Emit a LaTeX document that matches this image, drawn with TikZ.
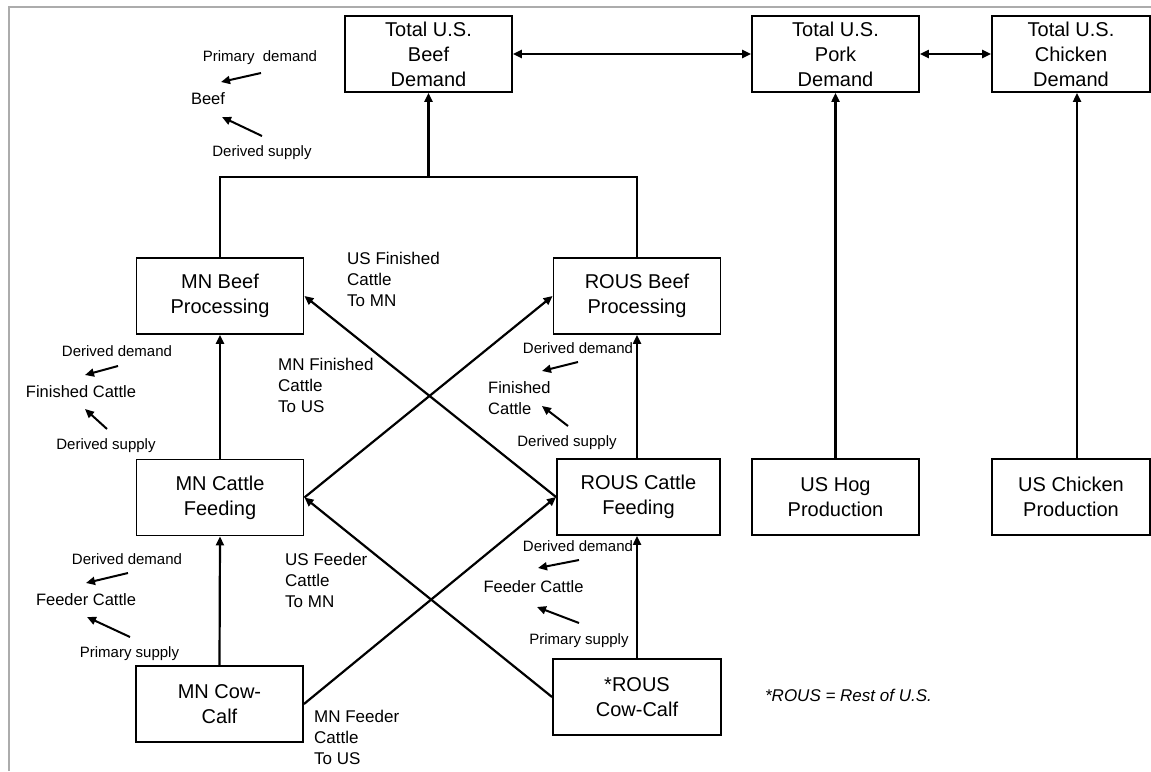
\documentclass[tikz,border=0pt]{standalone}
\usepackage{fontspec}
\setmainfont{Liberation Sans}
\usetikzlibrary{arrows.meta}

\begin{document}
\begin{tikzpicture}[x=1pt, y=-1pt, >={Triangle[length=9pt,width=8pt]},
    stage/.style={draw, line width=1.9pt, minimum width=167pt, minimum height=76pt,
        inner sep=0pt, align=center, font=\fontsize{20}{25}\selectfont},
    flow/.style={line width=2.2pt},
    trade/.style={anchor=west, align=left, inner sep=0pt, font=\fontsize{17}{21}\selectfont},
    mkt/.style={inner sep=0pt, font=\fontsize{16.5}{21}\selectfont},
    side/.style={inner sep=0pt, font=\fontsize{15}{18}\selectfont},
    hint/.style={->, line width=2pt}]

    % =================================================================
    % 0. PAGE AND GREY FRAME
    % =================================================================
    \useasboundingbox (0,0) rectangle (1151,771);
    \draw[gray!65, line width=2pt] (9,771) -- (9,7) -- (1151,7);

    % =================================================================
    % 1. COORDINATES OF THE SMALL LEGEND ARROWS
    % =================================================================
    % Beef
    \coordinate (h1s) at (261,73);   \coordinate (h1e) at (221,82);
    \coordinate (h2s) at (262,136);  \coordinate (h2e) at (222,117);
    % MN finished cattle
    \coordinate (h3s) at (118,366);  \coordinate (h3e) at (85,375);
    \coordinate (h4s) at (107,429);  \coordinate (h4e) at (85,409);
    % MN feeder cattle
    \coordinate (h5s) at (128,573);  \coordinate (h5e) at (86,583);
    \coordinate (h6s) at (130,637);  \coordinate (h6e) at (87,617);
    % ROUS finished cattle
    \coordinate (h7s) at (578,362);  \coordinate (h7e) at (542,371);
    \coordinate (h8s) at (568,426);  \coordinate (h8e) at (542,406);
    % ROUS feeder cattle
    \coordinate (h9s) at (579,560);  \coordinate (h9e) at (538,568);
    \coordinate (h10s) at (579,623); \coordinate (h10e) at (537,607);

    % =================================================================
    % 2. THE BOXES
    % =================================================================
    \node[stage] (bdem) at (428.5,54) {Total U.S.\\Beef\\Demand};
    \node[stage] (pdem) at (835.5,54) {Total U.S.\\Pork\\Demand};
    \node[stage, minimum width=158pt] (cdem) at (1071,54) {Total U.S.\\Chicken\\Demand};

    \node[stage] (mnproc) at (220,296) {MN Beef\\Processing};
    \node[stage] (rsproc) at (637,296) {ROUS Beef\\Processing};

    \node[stage] (mnfeed) at (220,497.5) {MN Cattle\\Feeding};
    \node[stage, minimum width=163pt] (rsfeed) at (638.5,497) {ROUS Cattle\\Feeding};
    \node[stage] (hog) at (835.5,497) {US Hog\\Production};
    \node[stage, minimum width=158pt] (chick) at (1071,497) {US Chicken\\Production};

    \node[stage] (mncow) at (219.5,704) {MN Cow-\\Calf};
    \node[stage, minimum width=168pt] (rscow) at (637,697) {*ROUS\\Cow-Calf};

    % =================================================================
    % 3. FLOWS BETWEEN THE BOXES
    % =================================================================
    % demand links along the top
    \draw[flow, <->] (bdem.east) -- (pdem.west);
    \draw[flow, <->] (pdem.east) -- (cdem.west);

    % processing bus up to beef demand
    \coordinate (bus) at (428.5,177);
    \draw[flow] (mnproc.north) |- (bus) -| (rsproc.north);
    \draw[flow, ->] (bus) -- (bdem.south);

    % straight up the chains
    \draw[flow, ->] (mnfeed.north) -- (mnproc.south);
    \draw[flow, ->] (mncow.north) -- (mnfeed.south);
    \draw[flow, ->] (rsproc.south |- rsfeed.north) -- (rsproc.south);
    \draw[flow, ->] (rscow.north) -- (rscow.north |- rsfeed.south);
    \draw[flow, ->] (hog.north) -- (pdem.south);
    \draw[flow, ->] ([xshift=6pt]chick.north) -- ([xshift=6pt]cdem.south);

    % shipments across
    \draw[flow, ->] (rsfeed.west) -- (mnproc.east);
    \draw[flow, ->] (mnfeed.east) -- (rsproc.west);
    \draw[flow, ->] (rscow.west) -- (mnfeed.east);
    \draw[flow, ->] (mncow.east) -- (rsfeed.west);

    % =================================================================
    % 4. LABELS ON THE SHIPMENTS
    % =================================================================
    \node[trade] (usfin) at (347,279) {US Finished\\Cattle\\To MN};
    \node[trade] (mnfin) at (278,385) {MN Finished\\Cattle\\To US};
    \node[trade] (usfdr) at (285,580) {US Feeder\\Cattle\\To MN};
    \node[trade] (mnfdr) at (314,737) {MN Feeder\\Cattle\\To US};

    % =================================================================
    % 5. DEMAND / SUPPLY LEGENDS
    % =================================================================
    \node[side] (bfd) at (260,58) {Primary\ \ demand};
    \node[mkt] (beef) at (208,99) {Beef};
    \node[side] (bfs) at (262,153) {Derived supply};

    \node[side] (mfcd) at (117,351) {Derived demand};
    \node[mkt] (mfc) at (81,392) {Finished Cattle};
    \node[side] (mfcs) at (106,446) {Derived supply};

    \node[side] (mfdd) at (127,559) {Derived demand};
    \node[mkt] (mfd) at (86,600) {Feeder Cattle};
    \node[side] (mfds) at (129.5,654) {Primary supply};

    \node[side] (rfcd) at (578,348) {Derived demand};
    \node[mkt, anchor=west, align=left] (rfc) at (488,398.5) {Finished\\Cattle};
    \node[side] (rfcs) at (567,443) {Derived supply};

    \node[side] (rfdd) at (578,546) {Derived demand};
    \node[mkt] (rfd) at (533.5,587) {Feeder Cattle};
    \node[side] (rfds) at (579,641) {Primary supply};

    \foreach \s/\e in {h1s/h1e, h2s/h2e, h3s/h3e, h4s/h4e, h5s/h5e,
                       h6s/h6e, h7s/h7e, h8s/h8e, h9s/h9e, h10s/h10e} {
        \draw[hint] (\s) -- (\e);
    }

    % footnote
    \node[inner sep=0pt, font=\itshape\fontsize{17}{20}\selectfont] (note) at (848.5,695) {*ROUS = Rest of U.S.};

\end{tikzpicture}
\end{document}
